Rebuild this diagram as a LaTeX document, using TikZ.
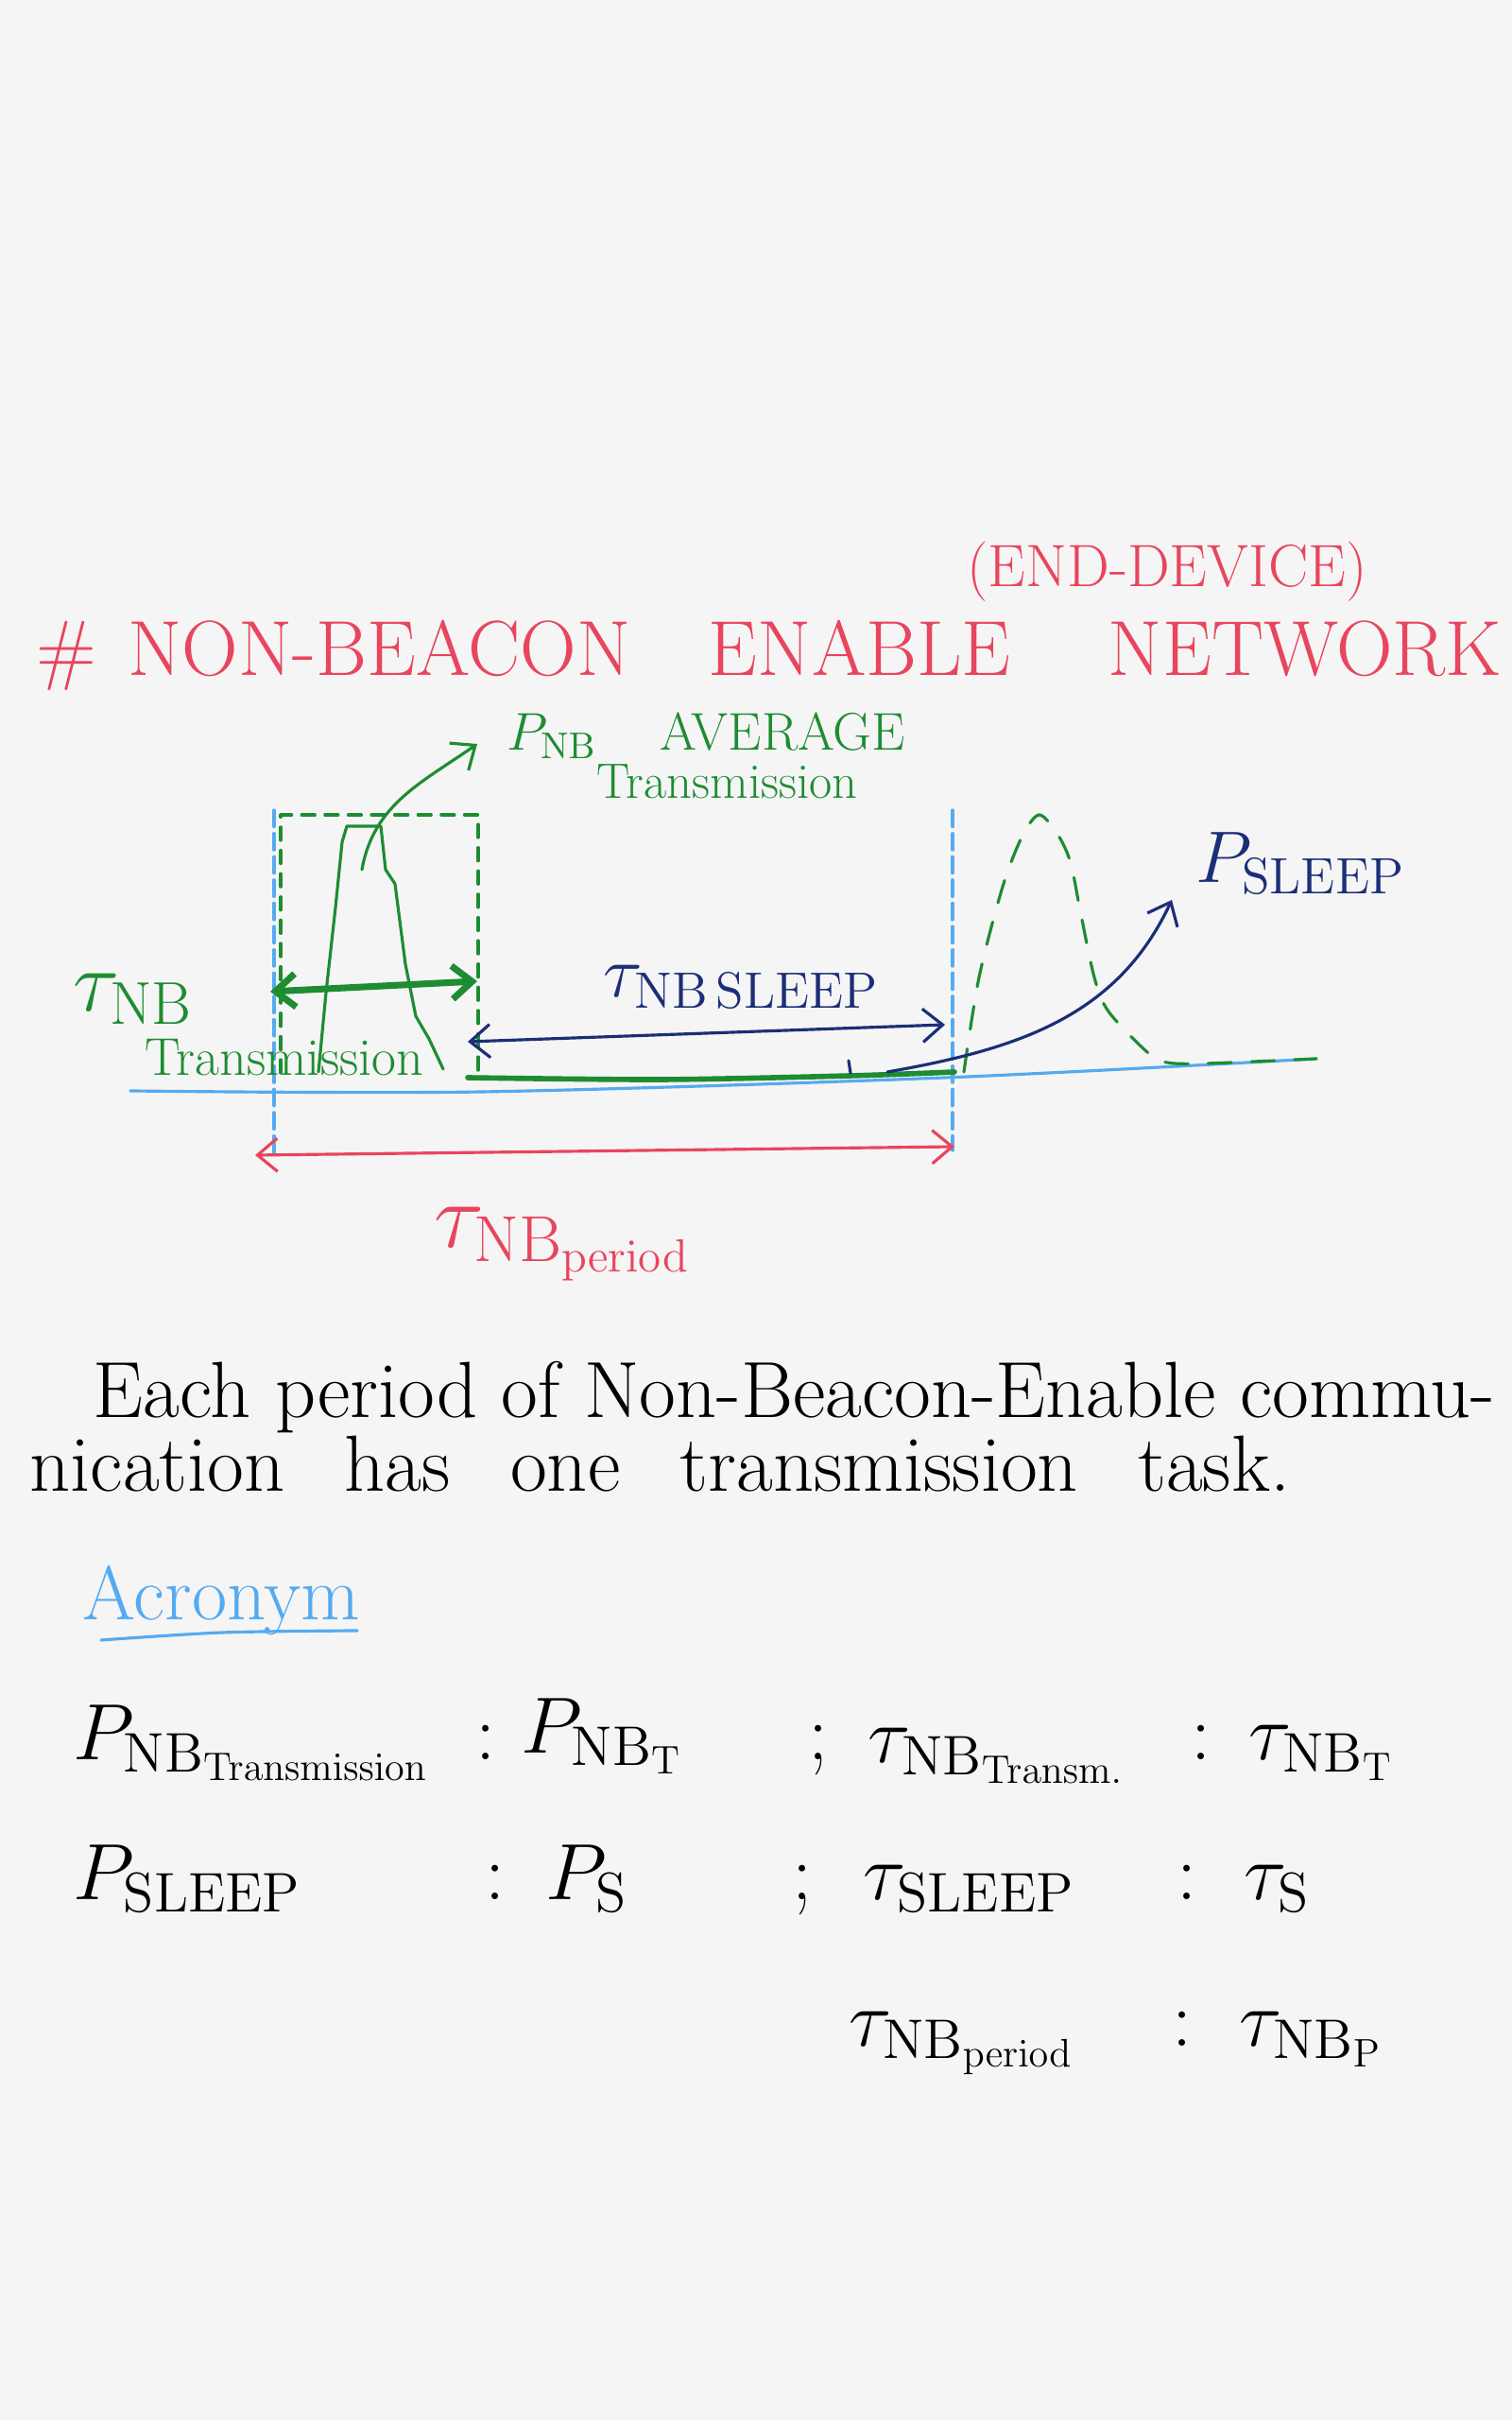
\RequirePackage{fix-cm}
\documentclass[tikz,border=0pt]{standalone}
\usepackage{amsmath, amsfonts, amssymb}
\usepackage{xcolor}
\usepackage{tikz}
\usetikzlibrary{arrows.meta}

\definecolor{pagebg}{HTML}{F5F5F5}
\definecolor{notered}{HTML}{E8455E}
\definecolor{notegreen}{HTML}{1E8C32}
\definecolor{noteblue}{HTML}{55AAF0}
\definecolor{notenavy}{HTML}{1C2E78}

\tikzset{
  pen/.style={line width=0.9pt, line cap=round, line join=round},
  barb/.style={-{Straight Barb[length=6pt,width=10pt]}},
  dbarb/.style={{Straight Barb[length=6pt,width=10pt]}-{Straight Barb[length=6pt,width=10pt]}},
  guide/.style={pen, noteblue, dash pattern=on 5pt off 2pt},
  greenbox/.style={pen, notegreen, dash pattern=on 4pt off 3pt},
  nextpulse/.style={pen, notegreen, dash pattern=on 7pt off 6pt},
  txt/.style={anchor=base west, inner sep=0pt},
  headtxt/.style={text=notered, font=\fontsize{23.5}{28}\selectfont},
  acr/.style={txt, font=\fontsize{24}{28}\selectfont}
}

\begin{document}
\begin{tikzpicture}

\fill[pagebg] (0,0) rectangle (16,25.6);
\useasboundingbox (0,0) rectangle (16,25.6);

\node[headtxt] (title) at (8.14,18.67) {\#\hspace{0.4em}NON-BEACON\hspace{1em}ENABLE\hspace{1.25em}NETWORK};
\node[headtxt, font=\fontsize{18}{22}\selectfont] (enddev) at (12.35,19.55) {(END-DEVICE)};

\draw[guide] (2.90,17.03) -- (2.90,13.35);
\draw[guide] (10.08,17.03) -- (10.08,13.43);
\draw[pen, noteblue] plot[smooth] coordinates {(1.38,14.06) (5.1,14.05) (10.0,14.20) (13.93,14.40)};

\draw[greenbox] (2.97,14.25) |- (5.06,16.98) -- (5.06,14.26);
\draw[pen, notegreen] (3.37,14.26) -- (3.45,15.10) -- (3.55,16.00) -- (3.62,16.69) -- (3.67,16.86)
  -- (4.03,16.86) -- (4.08,16.40) -- (4.18,16.25) -- (4.29,15.40) -- (4.40,14.85) -- (4.54,14.61) -- (4.69,14.29);
\draw[notegreen, line width=1.6pt, line cap=round] plot[smooth] coordinates {(4.95,14.20) (7.0,14.18) (9.0,14.22) (10.10,14.26)};
\draw[nextpulse] plot[smooth, tension=0.5] coordinates {(10.20,14.26) (10.36,15.26) (10.61,16.22) (10.82,16.76) (11.00,16.98)
  (11.20,16.76) (11.33,16.47) (11.43,15.97) (11.58,15.26) (11.73,14.90) (12.14,14.47) (12.35,14.36) (12.76,14.35) (13.93,14.40)};

\node[txt, text=notegreen, font=\fontsize{16}{19}\selectfont] (pavg) at (5.36,17.66) {$P_{\mathrm{NB}}$\hspace{1.2em}AVERAGE};
\node[txt, text=notegreen, font=\fontsize{15}{18}\selectfont] (pavgsub) at (6.31,17.15) {Transmission};
\coordinate (peak) at (3.83,16.40);
\coordinate (pavgtip) at (5.05,17.73);
\draw[pen, notegreen, barb] (peak) to[out=80, in=215] (pavgtip);

\coordinate (tx1) at (2.86,15.11);
\coordinate (tx2) at (5.05,15.22);
\draw[notegreen, line width=2pt, dbarb] (tx1) -- (tx2);
\node[txt, text=notegreen, font=\fontsize{26}{30}\selectfont] (tnb) at (0.77,14.90) {$\tau_{\mathrm{NB}}$};
\node[txt, text=notegreen, font=\fontsize{16}{19}\selectfont] (tnbsub) at (1.53,14.22) {Transmission};

\coordinate (sl1) at (4.95,14.58);
\coordinate (sl2) at (10.00,14.76);
\draw[pen, notenavy, dbarb] (sl1) -- (sl2);
\node[txt, text=notenavy, font=\fontsize{22}{26}\selectfont] (tsleep) at (6.38,15.05) {$\tau_{\mathrm{NB\,SLEEP}}$};

\coordinate (sleepfoot) at (9.39,14.26);
\coordinate (sleeptip) at (12.40,16.08);
\draw[pen, notenavy] (8.98,14.38) -- (9.00,14.25);
\draw[pen, notenavy, barb] (sleepfoot) to[out=10, in=245] (sleeptip);
\node[txt, text=notenavy, font=\fontsize{22}{26}\selectfont] (psleep) at (12.65,16.26) {$P_{\mathrm{SLEEP}}$};

\coordinate (per1) at (2.70,13.38);
\coordinate (per2) at (10.10,13.47);
\draw[pen, notered, dbarb] (per1) -- (per2);
\node[txt, text=notered, font=\fontsize{28}{32}\selectfont] (tperiod) at (4.59,12.40) {$\tau_{\mathrm{NB}_{\mathrm{period}}}$};

\node[txt, font=\fontsize{24}{28}\selectfont] (para1) at (0.98,10.60) {Each period of Non-Beacon-Enable commu-};
\node[txt, font=\fontsize{24}{28}\selectfont] (para2) at (0.31,9.82) {nication\hspace{0.75em}has\hspace{0.75em}one\hspace{0.75em}transmission\hspace{0.75em}task.};

\node[txt, text=noteblue, font=\fontsize{23}{27}\selectfont] (acro) at (0.87,8.46) {Acronym};
\draw[pen, noteblue] plot[smooth] coordinates {(1.07,8.25) (2.35,8.33) (3.78,8.35)};

\node[acr] (pnbt) at (0.77,6.98) {$P_{\mathrm{NB}_{\mathrm{Transmission}}}$};
\node[acr] (c1) at (5.03,6.98) {:};
\node[acr] (pnbtshort) at (5.51,7.05) {$P_{\mathrm{NB_T}}$};
\node[acr] (s1) at (8.55,6.98) {;};
\node[acr] (tnbt) at (9.18,6.95) {$\tau_{\mathrm{NB}_{\mathrm{Transm.}}}$};
\node[acr] (c2) at (12.60,6.98) {:};
\node[acr] (tnbtshort) at (13.21,6.98) {$\tau_{\mathrm{NB_T}}$};

\node[acr] (psl) at (0.77,5.50) {$P_{\mathrm{SLEEP}}$};
\node[acr] (c3) at (5.13,5.50) {:};
\node[acr] (pslshort) at (5.77,5.50) {$P_{\mathrm{S}}$};
\node[acr] (s2) at (8.38,5.50) {;};
\node[acr] (tsl) at (9.13,5.50) {$\tau_{\mathrm{SLEEP}}$};
\node[acr] (c4) at (12.45,5.50) {:};
\node[acr] (tslshort) at (13.16,5.50) {$\tau_{\mathrm{S}}$};

\node[acr] (tnbp) at (8.98,3.95) {$\tau_{\mathrm{NB}_{\mathrm{period}}}$};
\node[acr] (c5) at (12.40,3.95) {:};
\node[acr] (tnbpshort) at (13.11,3.95) {$\tau_{\mathrm{NB_P}}$};

\end{tikzpicture}
\end{document}
